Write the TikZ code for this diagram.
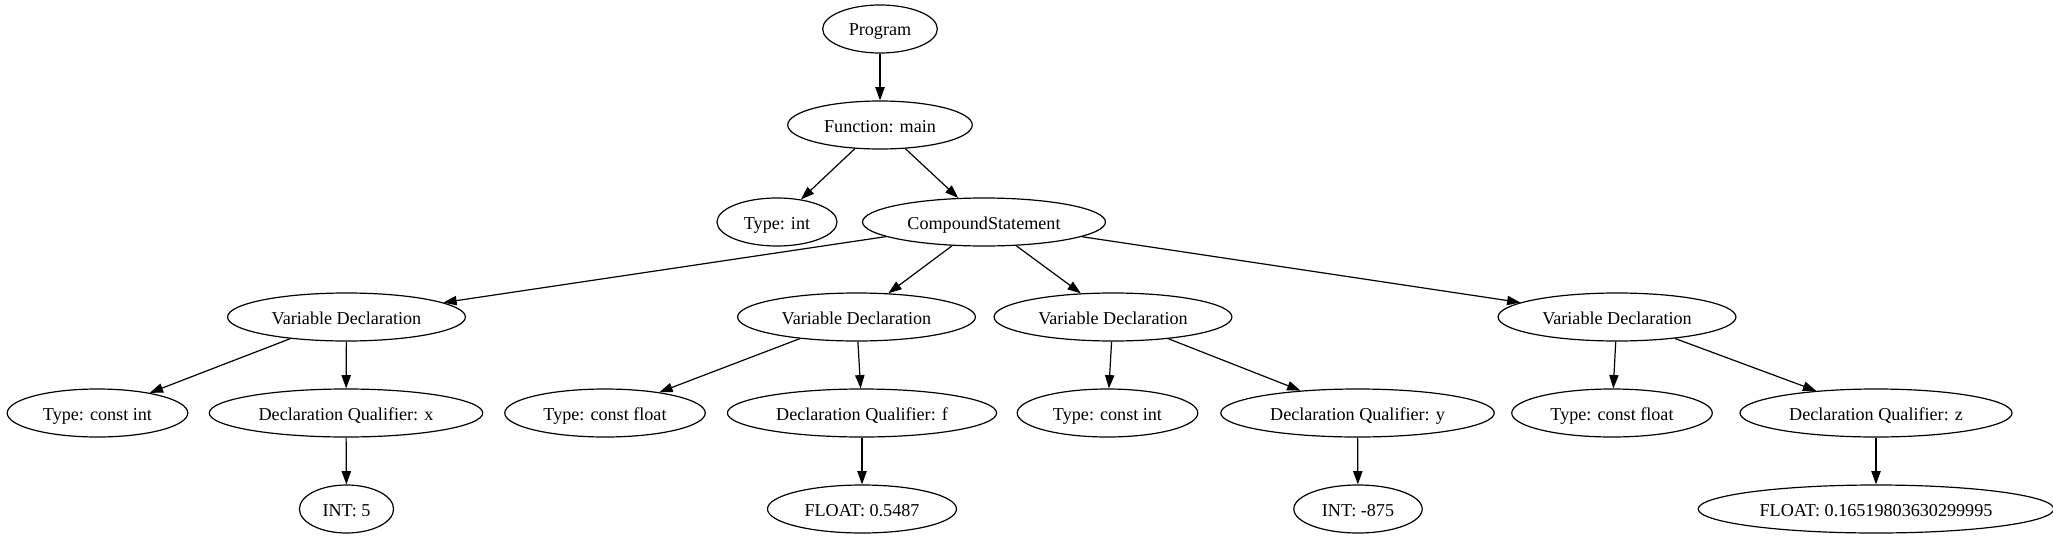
\documentclass[tikz,border=0pt]{standalone}
\usepackage{fontspec}
\setmainfont{Liberation Serif}
\usetikzlibrary{arrows.meta,shapes.geometric}

\begin{document}
\begin{tikzpicture}[x=0.75pt, y=-0.75pt,
      ast/.style={draw, ellipse, inner xsep=7pt, inner ysep=4pt, minimum height=36pt,
        minimum width=54pt, text height=12.5pt, text depth=2pt, line width=0.9pt,
        font=\fontsize{13.6}{16}\selectfont},
      arr/.style={-{Triangle[length=10pt,width=7pt]}, line width=0.9pt}]
    \useasboundingbox (0,0) rectangle (2053,539);
    % top of the tree
    \node[ast] (prog) at (880,29) {Program};
    \node[ast] (fn) at (880,125) {Function: main};
    \node[ast] (ty) at (777,222) {Type: int};
    \node[ast] (cs) at (984,222) {CompoundStatement};
    % declarations
    \node[ast] (v1) at (346.5,317) {Variable Declaration};
    \node[ast] (v2) at (856.5,317) {Variable Declaration};
    \node[ast] (v3) at (1113,317) {Variable Declaration};
    \node[ast] (v4) at (1617,317) {Variable Declaration};
    \node[ast] (t1) at (97.5,413) {Type: const int};
    \node[ast] (q1) at (346,413) {Declaration Qualifier: x};
    \node[ast] (t2) at (605,413) {Type: const float};
    \node[ast] (q2) at (862,413) {Declaration Qualifier: f};
    \node[ast] (t3) at (1107.5,413) {Type: const int};
    \node[ast] (q3) at (1357.5,413) {Declaration Qualifier: y};
    \node[ast] (t4) at (1612,413) {Type: const float};
    \node[ast] (q4) at (1876,413) {Declaration Qualifier: z};
    % literals
    \node[ast] (l1) at (346.5,509) {INT: 5};
    \node[ast] (l2) at (862,509) {FLOAT: 0.5487};
    \node[ast] (l3) at (1358,509) {INT: -875};
    \node[ast] (l4) at (1876,509) {FLOAT: 0.16519803630299995};
    \draw[arr] (prog) -- (fn);
    \draw[arr] (fn) -- (ty);
    \draw[arr] (fn) -- (cs);
    \foreach \v in {v1,v2,v3,v4}
      \draw[arr] (cs) -- (\v);
    \foreach \i in {1,...,4} {
      \draw[arr] (v\i) -- (t\i);
      \draw[arr] (v\i) -- (q\i);
      \draw[arr] (q\i) -- (l\i);
    }
  \end{tikzpicture}
\end{document}
